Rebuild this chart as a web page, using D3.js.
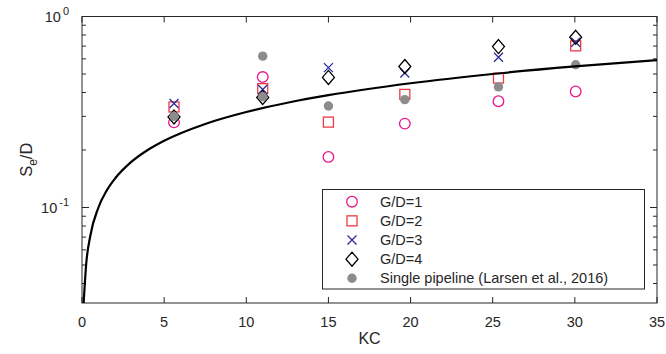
<!DOCTYPE html>
<html>
<head>
<meta charset="utf-8">
<script src="https://cdn.jsdelivr.net/npm/d3@7"></script>
<style>
  body { margin: 0; background: #fff; }
  svg { font-family: "Liberation Sans", Arial, sans-serif; }
</style>
</head>
<body>
<div id="chart"></div>
<script>
// KC values of the measurement groups
const kcGD = [5.6, 11, 15, 19.65, 25.35, 30.05];
const gd1 = [0.279, 0.482, 0.184, 0.275, 0.360, 0.405];
const gd2 = [0.336, 0.419, 0.280, 0.391, 0.476, 0.702];
const gd3 = [0.350, 0.415, 0.540, 0.506, 0.612, 0.733];
const gd4 = [0.298, 0.377, 0.480, 0.547, 0.696, 0.778];

// single pipeline (Larsen et al., 2016)
const kcSingle = [5.6, 11, 11, 15, 19.65, 25.35, 30.05];
const single = [0.300, 0.380, 0.620, 0.340, 0.367, 0.428, 0.559];

// curve
const curveKC = [0.1, 0.25, 0.5, 1, 1.5, 2, 3, 4, 5, 7.5, 10, 12.5, 15, 20, 25, 30, 35];
const curveS = [0.0316, 0.05, 0.0707, 0.1, 0.1225, 0.1414, 0.1732, 0.2, 0.2236, 0.2739, 0.3162, 0.3536, 0.3873, 0.4472, 0.5, 0.5477, 0.5916];

const xTicks = [0, 5, 10, 15, 20, 25, 30, 35];
const legendLabels = ["G/D=1", "G/D=2", "G/D=3", "G/D=4", "Single pipeline (Larsen et al., 2016)"];

const w = 666, h = 354;
const pLeft = 82, pRight = 657, pTop = 16.5, pBottom = 303;

const svg = d3.select("#chart").append("svg")
  .attr("width", w).attr("height", h);

const xScale = d3.scaleLinear().domain([0, 35]).range([pLeft, pRight]);
const yScale = d3.scaleLog().domain([Math.pow(10, -1.5), 1]).range([pBottom, pTop]);

const axisCol = "#262626";

// minor + major y ticks
const yTicks = yScale.ticks();
const isMajor = v => Math.abs(Math.log10(v) - Math.round(Math.log10(v))) < 1e-6;

const g = svg.append("g");

// x ticks (bottom and top, inward)
xTicks.forEach(t => {
  g.append("line").attr("x1", xScale(t)).attr("x2", xScale(t))
    .attr("y1", pBottom).attr("y2", pBottom - 6).attr("stroke", axisCol);
  g.append("line").attr("x1", xScale(t)).attr("x2", xScale(t))
    .attr("y1", pTop).attr("y2", pTop + 6).attr("stroke", axisCol);
  g.append("text").attr("x", xScale(t)).attr("y", pBottom + 24)
    .attr("text-anchor", "middle").attr("font-size", 14.5).attr("fill", axisCol)
    .text(t);
});

yTicks.forEach(t => {
  const len = isMajor(t) ? 7 : 4;
  g.append("line").attr("x1", pLeft).attr("x2", pLeft + len)
    .attr("y1", yScale(t)).attr("y2", yScale(t)).attr("stroke", axisCol);
  g.append("line").attr("x1", pRight).attr("x2", pRight - len)
    .attr("y1", yScale(t)).attr("y2", yScale(t)).attr("stroke", axisCol);
  if (isMajor(t)) {
    const txt = g.append("text").attr("x", pLeft - 13).attr("y", yScale(t) + 5)
      .attr("text-anchor", "end").attr("font-size", 14.5).attr("fill", axisCol);
    txt.append("tspan").text("10");
    txt.append("tspan").attr("dy", -7).attr("dx", 2).attr("font-size", 11)
      .text(Math.round(Math.log10(t)));
  }
});

// box
g.append("rect").attr("x", pLeft).attr("y", pTop)
  .attr("width", pRight - pLeft).attr("height", pBottom - pTop)
  .attr("fill", "none").attr("stroke", axisCol).attr("stroke-width", 1);

// axis labels
svg.append("text").attr("x", (pLeft + pRight) / 2).attr("y", 344)
  .attr("text-anchor", "middle").attr("font-size", 16).attr("fill", axisCol).text("KC");

const yl = svg.append("text")
  .attr("transform", "translate(32," + ((pTop + pBottom) / 2) + ") rotate(-90)")
  .attr("text-anchor", "middle").attr("font-size", 16.5).attr("fill", axisCol);
yl.append("tspan").text("S");
yl.append("tspan").attr("dy", 5).attr("font-size", 12).text("e");
yl.append("tspan").attr("dy", -5).text("/D");

// marker drawers
const sym = {
  circle: (sel, x, y) => sel.append("circle").attr("cx", x).attr("cy", y).attr("r", 5.3)
    .attr("fill", "none").attr("stroke", "#e8168a").attr("stroke-width", 1.3),
  square: (sel, x, y) => sel.append("rect").attr("x", x - 5).attr("y", y - 5)
    .attr("width", 10).attr("height", 10)
    .attr("fill", "none").attr("stroke", "#ec3b45").attr("stroke-width", 1.3),
  cross: (sel, x, y) => sel.append("path")
    .attr("d", `M${x - 4.5},${y - 4.5}L${x + 4.5},${y + 4.5}M${x - 4.5},${y + 4.5}L${x + 4.5},${y - 4.5}`)
    .attr("stroke", "#2b2b9c").attr("stroke-width", 1.3),
  diamond: (sel, x, y) => sel.append("path")
    .attr("d", `M${x},${y - 7}L${x + 6},${y}L${x},${y + 7}L${x - 6},${y}Z`)
    .attr("fill", "none").attr("stroke", "#000").attr("stroke-width", 1.3),
  dot: (sel, x, y) => sel.append("circle").attr("cx", x).attr("cy", y).attr("r", 4.7)
    .attr("fill", "#8c8c8c")
};

const marks = svg.append("g");
kcGD.forEach((k, i) => sym.circle(marks, xScale(k), yScale(gd1[i])));
kcGD.forEach((k, i) => sym.square(marks, xScale(k), yScale(gd2[i])));
kcGD.forEach((k, i) => sym.cross(marks, xScale(k), yScale(gd3[i])));
kcGD.forEach((k, i) => sym.diamond(marks, xScale(k), yScale(gd4[i])));
kcSingle.forEach((k, i) => sym.dot(marks, xScale(k), yScale(single[i])));

// curve
const line = d3.line()
  .x((d, i) => xScale(curveKC[i]))
  .y(d => yScale(d))
  .curve(d3.curveMonotoneX);

svg.append("path").datum(curveS)
  .attr("d", line).attr("fill", "none")
  .attr("stroke", "#000").attr("stroke-width", 2.2);

// legend
const lg = svg.append("g");
lg.append("rect").attr("x", 322.5).attr("y", 189.5).attr("width", 322).attr("height", 99.5)
  .attr("fill", "#fff").attr("stroke", axisCol).attr("stroke-width", 1);
const kinds = ["circle", "square", "cross", "diamond", "dot"];
legendLabels.forEach((lab, i) => {
  const cy = 201.7 + i * 19.15;
  sym[kinds[i]](lg, 352, cy);
  lg.append("text").attr("x", 380).attr("y", cy + 5).attr("font-size", 14.5)
    .attr("fill", axisCol).text(lab);
});
</script>
</body>
</html>
